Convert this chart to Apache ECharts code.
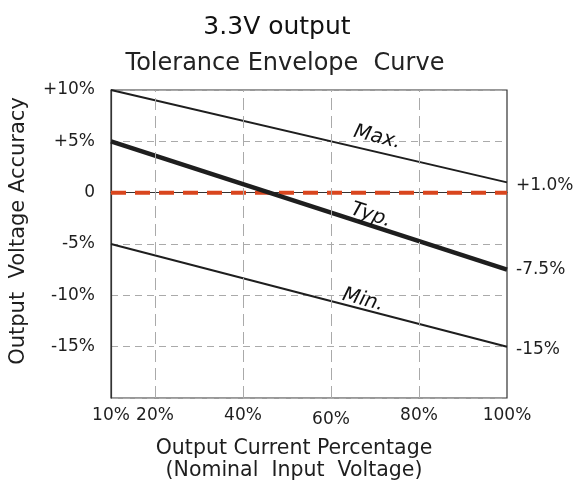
<!DOCTYPE html>
<html><head><meta charset="utf-8">
<script src="https://cdn.jsdelivr.net/npm/echarts@6/dist/echarts.min.js"></script>
<style>html,body{margin:0;padding:0;background:#fff}#c{width:577px;height:482px}</style>
</head><body><div id="c"></div>
<script>
const loadPct = [10, 100];
const maxValues = [10, 1];
const typValues = [5, -7.5];
const minValues = [-5, -15];
const endLabels = { max: '+1.0%', typ: '-7.5%', min: '-15%' };
const xTickLabels = [10, 20, 40, 60, 80, 100];
const xGridValues = [20, 40, 60, 80];
const nominalLine = [0, 0];
const curveNames = [
  { text: 'Max.', at: [70.5, 5.4], rot: 14 },
  { text: 'Typ.', at: [69.1, -2.2], rot: 18 },
  { text: 'Min.', at: [67.3, -10.45], rot: 15 }
];

const FONT = 'DejaVu Sans';
const ink = '#1e1e1e';
const pair = (xs, ys) => xs.map((x, i) => [x, ys[i]]);

const chart = echarts.init(document.getElementById('c'), null, { renderer: 'canvas' });
chart.setOption({
  animation: false,
  textStyle: { fontFamily: FONT, color: ink },
  title: [
    { text: '3.3V output', left: 272, top: 10, textAlign: 'center',
      textStyle: { fontFamily: FONT, fontSize: 25, fontWeight: 'normal', color: '#111' } },
    { text: 'Tolerance Envelope  Curve', left: 280, top: 47, textAlign: 'center',
      textStyle: { fontFamily: FONT, fontSize: 24, fontWeight: 'normal', color: '#222' } }
  ],
  grid: { left: 111, right: 70, top: 90, bottom: 84, show: true, borderColor: '#333', borderWidth: 1.2,
          containLabel: false, outerBoundsMode: 'none' },
  xAxis: {
    type: 'value', min: 10, max: 100, interval: 10,
    name: 'Output Current Percentage\n(Nominal  Input  Voltage)',
    nameLocation: 'middle', nameGap: 40,
    nameTextStyle: { fontFamily: FONT, fontSize: 20.5, color: ink, lineHeight: 22, padding: [0, 30, 0, 0] },
    axisLine: { show: true, lineStyle: { color: '#333', width: 1.2 } },
    axisTick: { show: false },
    splitLine: { show: false },
    axisLabel: {
      margin: 9, fontFamily: FONT, fontSize: 17, color: ink,
      formatter: v => xTickLabels.includes(v) ? (v === 60 ? '{low|' + v + '%}' : v + '%') : '',
      rich: { low: { fontFamily: FONT, fontSize: 17, color: ink, padding: [4, 0, 0, 0] } }
    }
  },
  yAxis: {
    type: 'value', min: -20, max: 10, interval: 5,
    name: 'Output  Voltage Accuracy',
    nameLocation: 'middle', nameGap: 82,
    nameTextStyle: { fontFamily: FONT, fontSize: 21, color: ink, padding: [0, 0, 0, 26] },
    axisLine: { show: true, lineStyle: { color: '#333', width: 1.2 } },
    axisTick: { show: false },
    splitLine: { show: true, lineStyle: { color: '#aaa', type: [7, 5], width: 1 } },
    axisLabel: {
      margin: 16, fontFamily: FONT, fontSize: 17, color: ink,
      formatter: v => v === -20 ? '' : (v > 0 ? '+' + v + '%' : (v === 0 ? '0' : v + '%'))
    }
  },
  series: [
    {
      type: 'line', data: pair(loadPct, nominalLine), symbol: 'none', silent: true, z: 3,
      lineStyle: { color: '#d9461e', width: 4, type: [15, 9] },
      markLine: {
        silent: true, symbol: 'none', label: { show: false },
        lineStyle: { color: '#aaa', type: [12, 6], width: 1 },
        data: xGridValues.map(v => ({ xAxis: v }))
      }
    },
    {
      type: 'line', name: 'Max.', data: pair(loadPct, maxValues), symbol: 'none', z: 4,
      lineStyle: { color: ink, width: 2 },
      endLabel: { show: true, formatter: endLabels.max, distance: 9, fontFamily: FONT, fontSize: 17, color: ink, offset: [0, 3] }
    },
    {
      type: 'line', name: 'Typ.', data: pair(loadPct, typValues), symbol: 'none', z: 4,
      lineStyle: { color: ink, width: 4.5 },
      endLabel: { show: true, formatter: endLabels.typ, distance: 9, fontFamily: FONT, fontSize: 17, color: ink, offset: [0, 0] }
    },
    {
      type: 'line', name: 'Min.', data: pair(loadPct, minValues), symbol: 'none', z: 4,
      lineStyle: { color: ink, width: 2 },
      endLabel: { show: true, formatter: endLabels.min, distance: 9, fontFamily: FONT, fontSize: 17, color: ink, offset: [0, 3] }
    },
    {
      type: 'scatter', data: curveNames.map(c => c.at), symbolSize: 0, silent: true, z: 5,
      itemStyle: { opacity: 1 },
      label: {
        show: true, position: 'inside', opacity: 1,
        formatter: p => curveNames[p.dataIndex].text,
        fontFamily: FONT, fontSize: 20, fontStyle: 'italic', color: '#111'
      },
      labelLayout: p => ({ rotate: -curveNames[p.dataIndex].rot })
    }
  ]
});
</script></body></html>
